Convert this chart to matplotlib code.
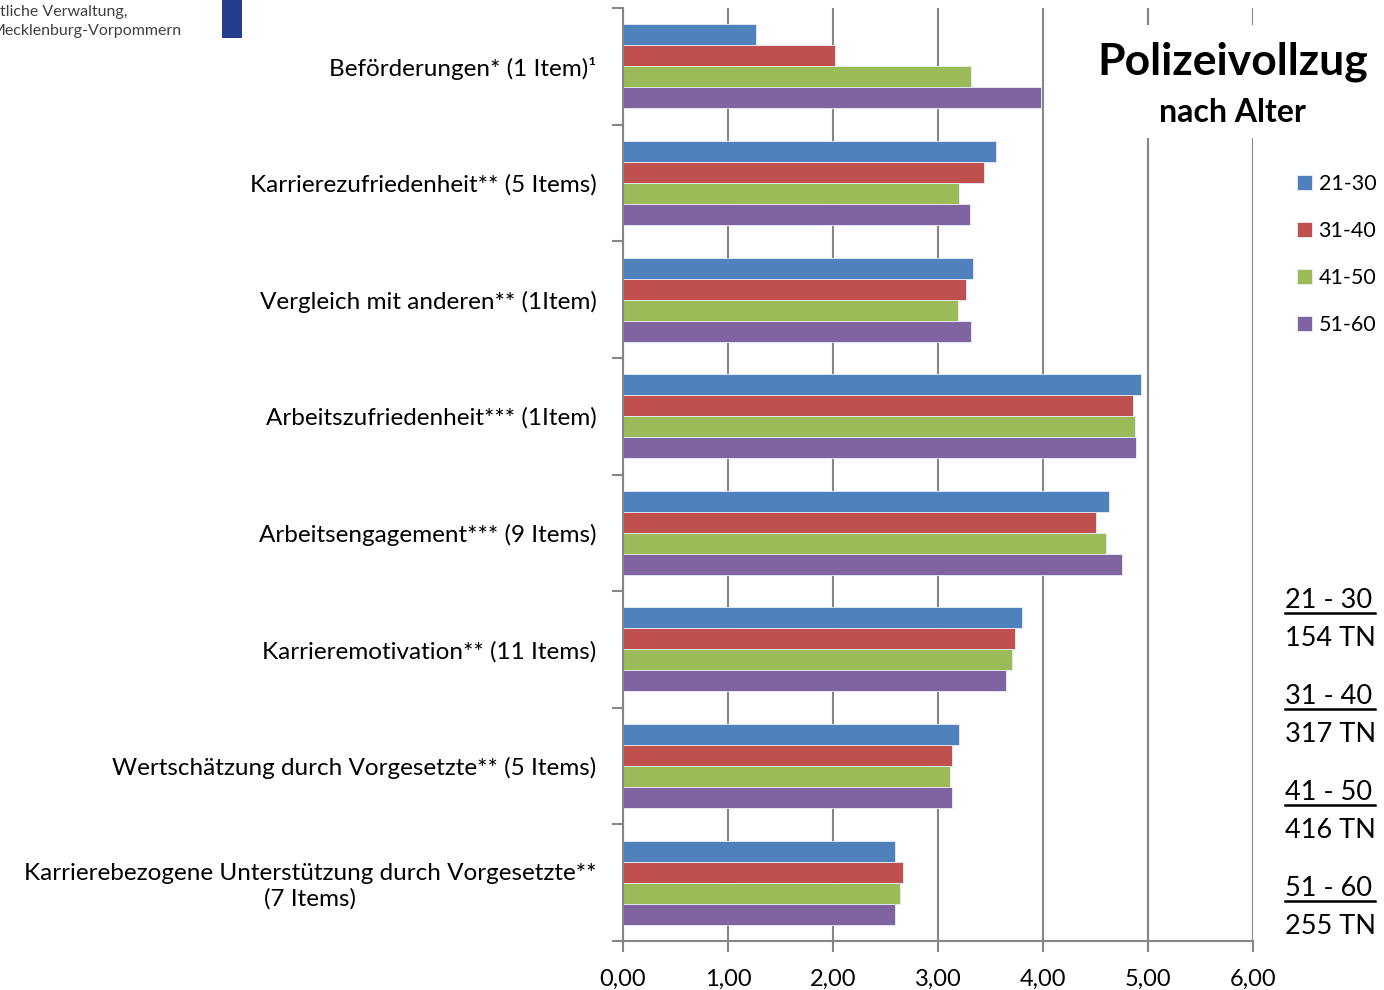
import matplotlib
matplotlib.use("Agg")
import matplotlib.pyplot as plt
import numpy as np
from matplotlib.patches import Rectangle
from matplotlib.lines import Line2D

plt.rcParams["font.family"] = ["Lato", "DejaVu Sans"]

categories = [
    "Beförderungen* (1 Item)¹",
    "Karrierezufriedenheit** (5 Items)",
    "Vergleich mit anderen** (1Item)",
    "Arbeitszufriedenheit*** (1Item)",
    "Arbeitsengagement*** (9 Items)",
    "Karrieremotivation** (11 Items)",
    "Wertschätzung durch Vorgesetzte** (5 Items)",
    "Karrierebezogene Unterstützung durch Vorgesetzte**\n(7 Items)",
]
age_groups = ["21-30", "31-40", "41-50", "51-60"]
v_21_30 = [1.27, 3.55, 3.33, 4.93, 4.63, 3.80, 3.20, 2.59]
v_31_40 = [2.02, 3.44, 3.27, 4.86, 4.50, 3.73, 3.13, 2.67]
v_41_50 = [3.31, 3.20, 3.19, 4.88, 4.60, 3.70, 3.11, 2.64]
v_51_60 = [3.98, 3.30, 3.31, 4.89, 4.75, 3.65, 3.13, 2.59]
colors = ["#4f81bd", "#c0504d", "#9bbb59", "#8064a2"]
xticks = [0, 1, 2, 3, 4, 5, 6]
group_sizes = ["154 TN", "317 TN", "416 TN", "255 TN"]
group_names = ["21 - 30", "31 - 40", "41 - 50", "51 - 60"]

W, H = 1384, 990
fig = plt.figure(figsize=(W / 100, H / 100), dpi=100)
ax = fig.add_axes([623 / W, 1 - 941 / H, (1253 - 623) / W, (941 - 8) / H])

grid_c = "#868686"
series = [v_21_30, v_31_40, v_41_50, v_51_60]
y = np.arange(len(categories))
h = 0.18
bars = []
for j, vals in enumerate(series):
    b = ax.barh(y + (j - 1.5) * h, vals, height=h, color=colors[j],
                edgecolor="#e8eef8", linewidth=0.6, label=age_groups[j], zorder=3)
    bars.append(b)

ax.set_xlim(0, 6)
ax.set_ylim(len(categories) - 0.5, -0.5)
ax.set_xticks(xticks)
ax.set_xticklabels([f"{t:.2f}".replace(".", ",") for t in xticks], fontsize=17)
ax.set_yticks(y)
ax.set_yticklabels(categories, fontsize=17.5, multialignment="center")
ax.set_yticks(np.arange(len(categories) + 1) - 0.5, minor=True)
ax.tick_params(axis="y", which="major", length=0, pad=19)
ax.tick_params(axis="y", which="minor", length=8, width=1.5, color=grid_c)
ax.tick_params(axis="x", length=8, width=1.5, color=grid_c, pad=12)
ax.xaxis.grid(True, color=grid_c, linewidth=1.5, zorder=0)
ax.set_axisbelow(True)
for s in ["top", "right"]:
    ax.spines[s].set_visible(False)
for s in ["left", "bottom"]:
    ax.spines[s].set_color(grid_c)
    ax.spines[s].set_linewidth(1.5)
    ax.spines[s].set_zorder(4)

# title box hides gridlines behind it
fig.add_artist(Rectangle((1090 / W, 1 - 138 / H), (W - 1090) / W, (138 - 25) / H,
                         transform=fig.transFigure, facecolor="white",
                         edgecolor="none", zorder=5))
fig.text(1233 / W, 1 - 62 / H, "Polizeivollzug", fontsize=32, fontweight="bold",
         ha="center", va="center", zorder=6)
fig.text(1232 / W, 1 - 112 / H, "nach Alter", fontsize=23, fontweight="bold",
         ha="center", va="center", zorder=6)

fig.legend(handles=bars, labels=age_groups, loc="upper left",
           bbox_to_anchor=(1297 / W, 1 - 174 / H), frameon=False, fontsize=15.5,
           handlelength=0.7, handleheight=0.7, handletextpad=0.3,
           labelspacing=1.25, borderpad=0, borderaxespad=0)

# group sizes on the right
for k, (name, n) in enumerate(zip(group_names, group_sizes)):
    yc = 600 + 96 * k
    fig.text(1285 / W, 1 - yc / H, name, fontsize=19.5, ha="left", va="center")
    fig.add_artist(Line2D([1285 / W, 1375 / W], [1 - (yc + 13) / H] * 2,
                          transform=fig.transFigure, color="black", linewidth=1.8))
    fig.text(1285 / W, 1 - (yc + 38) / H, n, fontsize=19.5, ha="left", va="center")

# logo fragment at top left (cropped in the original)
fig.text(0, 1 - 12 / H, "tliche Verwaltung,", fontsize=11.5, color="#404040",
         ha="left", va="center")
fig.text(-9 / W, 1 - 31 / H, "Mecklenburg-Vorpommern", fontsize=11.5, color="#404040",
         ha="left", va="center")
fig.add_artist(Rectangle((222 / W, 1 - 38 / H), 20 / W, 38 / H,
                         transform=fig.transFigure, facecolor="#233d8c",
                         edgecolor="none"))

fig.savefig("out.png", dpi=100, facecolor="white")
